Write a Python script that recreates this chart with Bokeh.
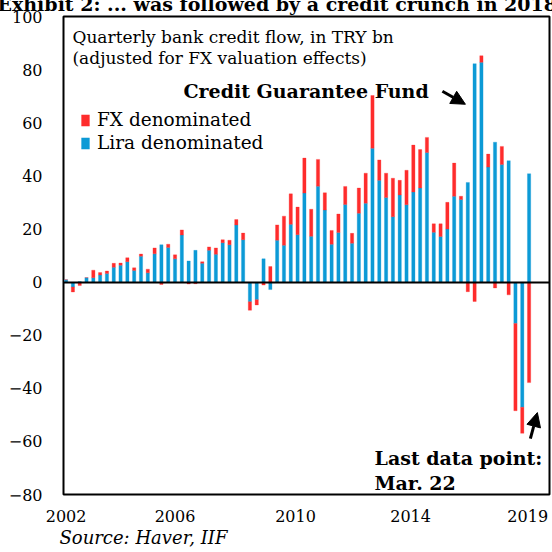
import numpy as np
from bokeh.plotting import figure
from bokeh.models import (ColumnDataSource, Range1d, FixedTicker, Label, Arrow,
                          NormalHead, Span, Legend, LegendItem, Title)
from bokeh.embed import file_html
from bokeh.resources import INLINE

# ---------------- data (TRY bn, quarterly, 2002Q1 .. 2019Q1) ----------------
quarters = [f"{y}Q{q}" for y in range(2002, 2019) for q in range(1, 5)] + ["2019Q1"]

lira = [1.0, -1.7, 0.3, 1.8, 1.8, 2.8, 3.4, 5.7, 6.5, 7.8,
        4.5, 9.9, 3.6, 10.8, 14.2, 13.2, 8.9, 17.9, 8.1, 12.1,
        7.2, 12.1, 10.6, 15.0, 14.2, 21.7, 16.1, -7.3, -6.5, 8.9,
        -2.7, 15.9, 14.0, 21.9, 18.0, 33.7, 17.4, 36.3, 27.3, 14.4,
        18.8, 29.4, 14.8, 26.1, 29.9, 50.6, 38.5, 32.0, 24.8, 33.0,
        29.3, 34.1, 35.6, 49.0, 18.9, 17.3, 20.1, 32.5, 31.3, 37.7,
        82.5, 83.0, 43.5, 52.9, 44.5, 45.9, -15.5, -47.1, 41.0]

fx = [0.0, -1.9, -1.2, 0.0, 2.8, 0.9, 0.9, 1.5, 0.8, 1.5,
      1.0, 0.8, 1.4, 2.2, -0.8, 1.2, 1.5, 1.9, -0.6, -0.5,
      0.6, 1.3, 2.4, 1.1, 1.7, 2.0, 2.5, -3.2, -2.0, -1.0,
      6.0, 5.8, 11.0, 11.5, 10.4, 13.2, 10.2, 10.1, 6.5, 5.2,
      7.0, 6.8, 3.7, 9.5, 11.3, 19.9, 7.7, 9.2, 14.5, 5.5,
      13.0, 17.7, 14.5, 5.7, 3.2, 4.8, 10.1, 12.5, 1.2, -3.5,
      -7.2, 2.5, 4.9, -2.1, 6.8, -4.7, -32.9, -9.8, -37.8]

tick_positions = [0, 16, 33.7, 50.6, 67.8]
tick_labels = ["2002", "2006", "2010", "2014", "2019"]
y_ticks = [-80, -60, -40, -20, 0, 20, 40, 60, 80, 100]

BLUE = "#0C9AD6"
RED = "#FE2C2C"
FONT = "DejaVu Serif"
SHIFT = 12  # the page is cropped at the top, as in the reference

# ---------------- stacking (positives up, negatives down) ----------------
n = len(quarters)
xi = np.arange(n, dtype=float)
pos_base = np.zeros(n)
neg_base = np.zeros(n)


def stack(vals):
    global pos_base, neg_base
    v = np.asarray(vals, dtype=float)
    bottom = np.where(v >= 0, pos_base, neg_base)
    top = bottom + v
    pos_base = np.where(v >= 0, top, pos_base)
    neg_base = np.where(v < 0, top, neg_base)
    return bottom, top


lb, lt = stack(lira)
fb, ft = stack(fx)

src_l = ColumnDataSource(dict(x=xi, bottom=lb, top=lt, q=quarters))
src_f = ColumnDataSource(dict(x=xi, bottom=fb, top=ft, q=quarters))

p = figure(width=552, height=552 + SHIFT, output_backend="svg", toolbar_location=None,
           x_range=Range1d(-0.38, 71.0), y_range=Range1d(-80, 100.3),
           min_border_left=63, min_border_right=3, min_border_top=15 + SHIFT,
           min_border_bottom=58)
p.margin = (-SHIFT, 0, 0, 0)
p.background_fill_color = "white"
p.border_fill_color = "white"
p.outline_line_color = "black"
p.outline_line_width = 2
p.xgrid.visible = False
p.ygrid.visible = False

r_l = p.vbar(x="x", bottom="bottom", top="top", width=0.48, source=src_l,
             fill_color=BLUE, line_color=BLUE, line_width=0.3)
r_f = p.vbar(x="x", bottom="bottom", top="top", width=0.48, source=src_f,
             fill_color=RED, line_color=RED, line_width=0.3)

p.add_layout(Span(location=0, dimension="width", line_color="black", line_width=2))

# axes
p.yaxis.ticker = FixedTicker(ticks=y_ticks)
p.xaxis.ticker = FixedTicker(ticks=tick_positions)
p.xaxis.major_label_overrides = {t: l for t, l in zip(tick_positions, tick_labels)}
for ax in (p.xaxis[0], p.yaxis[0]):
    ax.axis_line_color = None
    ax.major_tick_line_color = None
    ax.minor_tick_line_color = None
    ax.major_tick_out = 0
    ax.major_tick_in = 0
    ax.minor_tick_out = 0
    ax.major_label_text_font = FONT
    ax.major_label_text_font_size = "16px"
    ax.major_label_text_color = "black"
p.yaxis.major_label_standoff = 21
p.xaxis.major_label_standoff = 15

# titles (header, partly cropped as in the reference; source note below)
p.add_layout(Title(text="Exhibit 2: ... was followed by a credit crunch in 2018",
                   align="left", offset=-66, standoff=4, text_font=FONT,
                   text_font_size="19px", text_font_style="bold",
                   text_color="black"), "above")
p.add_layout(Title(text="Source: Haver, IIF", align="left", offset=-4, standoff=0,
                   text_font=FONT, text_font_size="18px", text_font_style="italic",
                   text_color="black"), "below")

# legend
legend = Legend(items=[LegendItem(label="FX denominated", renderers=[r_f]),
                       LegendItem(label="Lira denominated", renderers=[r_l])],
                location=(17, 341), background_fill_alpha=0, border_line_color=None,
                padding=0, margin=0, spacing=2, glyph_width=10, glyph_height=14,
                label_height=20, label_standoff=7, label_text_font=FONT,
                label_text_font_size="18.5px", label_text_color="black")
p.add_layout(legend)

# texts inside the frame
def lab(x, y, text, size="17px", style="normal", align="left"):
    p.add_layout(Label(x=x, y=y, text=text, text_font=FONT, text_font_size=size,
                       text_font_style=style, text_align=align,
                       text_baseline="alphabetic", text_color="black"))

lab(0.94, 92.4, "Quarterly bank credit flow, in TRY bn")
lab(0.94, 84.5, "(adjusted for FX valuation effects)")
lab(17.24, 72.3, "Credit Guarantee Fund", size="19px", style="bold")
lab(45.3, -66.4, "Last data point:", size="19px", style="bold")
lab(45.3, -75.8, "Mar. 22", size="19px", style="bold")

# arrows
p.add_layout(Arrow(end=NormalHead(size=14, fill_color="black", line_color="black"),
                   x_start=55.27, y_start=72.1, x_end=58.65, y_end=67.2,
                   line_width=3, line_color="black"))
p.add_layout(Arrow(end=NormalHead(size=14, fill_color="black", line_color="black"),
                   x_start=68.19, y_start=-58.9, x_end=69.22, y_end=-49.1,
                   line_width=3, line_color="black"))

open("out.html", "w").write(file_html(p, INLINE))
